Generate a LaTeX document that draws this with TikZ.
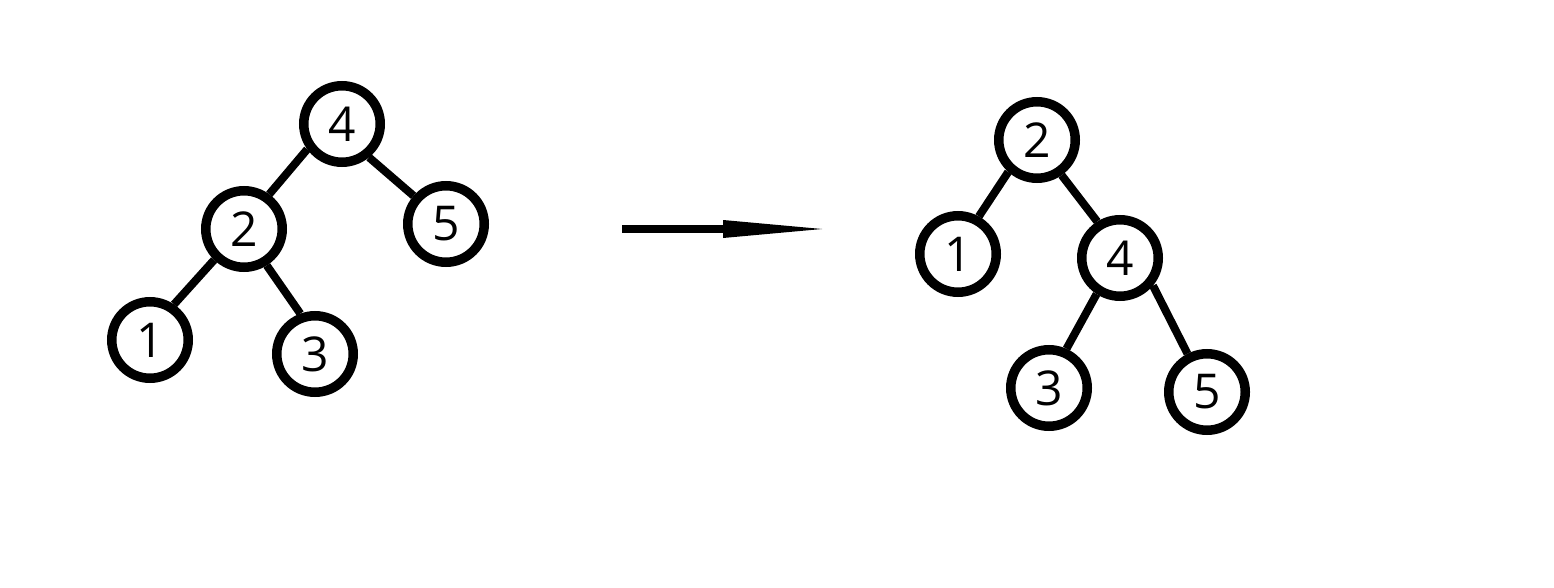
\documentclass[tikz,border=0pt]{standalone}
\usepackage{fontspec}
\setmainfont{Open Sans}
\usetikzlibrary{arrows.meta}
\begin{document}
\begin{tikzpicture}[x=1pt,y=-1pt,
  tnode/.style={circle,draw=black,line width=9.5pt,fill=white,minimum size=76.5pt,inner sep=0pt,
    font=\fontsize{48}{52}\selectfont},
  tedge/.style={line width=8pt,draw=black}]
\useasboundingbox (0,0) rectangle (1554,588);
% left tree
\node[tnode] (L4) at (342,124) {4};
\node[tnode] (L2) at (244,229) {2};
\node[tnode] (L5) at (446,224) {5};
\node[tnode] (L1) at (150,340) {1};
\node[tnode] (L3) at (315,354) {3};
\draw[tedge] (L4.216) -- (L2.54);
\draw[tedge] (L4.309) -- (L5.139);
\draw[tedge] (L2.226) -- (L1.56);
\draw[tedge] (L2.302) -- (L3.110);
% arrow
\coordinate (AS) at (622,229);
\coordinate (AE) at (822,229);
\draw[line width=8pt,-{Triangle[length=99pt,width=18pt,line width=0pt]}] (AS) -- (AE);
% right tree
\node[tnode] (R2) at (1037,140) {2};
\node[tnode] (R1) at (958,254) {1};
\node[tnode] (R4) at (1120,258) {4};
\node[tnode] (R3) at (1049,388) {3};
\node[tnode] (R5) at (1207,392) {5};
\draw[tedge] (R2.228) -- (R1.61);
\draw[tedge] (R2.305) -- (R4.122);
\draw[tedge] (R4.237) -- (R3.66);
\draw[tedge] (R4.320) -- (R5.117);
\end{tikzpicture}
\end{document}
